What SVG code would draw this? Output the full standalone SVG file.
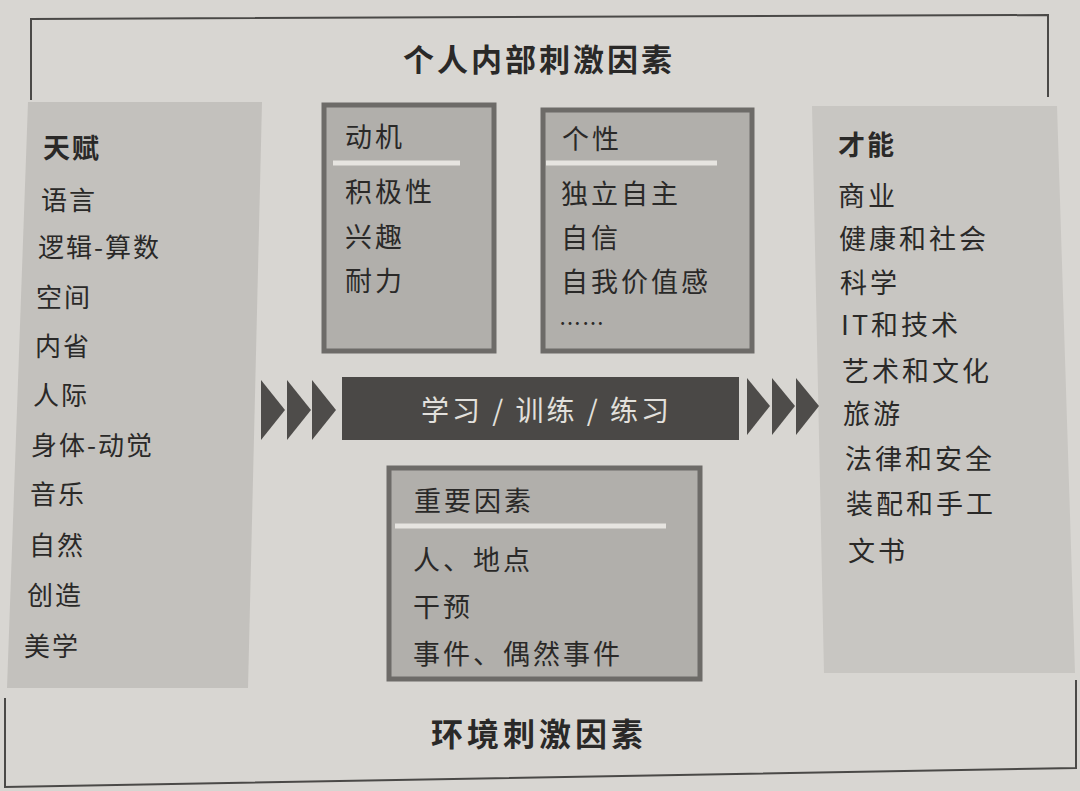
<svg xmlns="http://www.w3.org/2000/svg" width="1080" height="791" viewBox="0 0 1080 791">
<style>
.t{font-family:"Noto Sans CJK SC","Noto Sans",sans-serif;fill:#2a2928}
.item{font-size:26px;letter-spacing:2px}
.bitem{font-size:27px;letter-spacing:3px}
.head{font-size:27px;font-weight:bold;letter-spacing:2px}
.title{font-size:31px;font-weight:bold;letter-spacing:3px}
.frame{fill:none;stroke:#4a4947;stroke-width:2}
.panel{fill:#c3c1bd}
.box{fill:#b1afab;stroke:#6d6b68;stroke-width:5}
.rule{stroke:#e6e4e0;stroke-width:5}
.chev{fill:#4e4c4a}
</style>
<rect x="0" y="0" width="1080" height="791" fill="#d8d6d2"/>
<g id="frame-top">
<path class="frame" d="M31,100 L31,19 L1048,15 L1048,97"/>
<text class="t title" x="403" y="71">个人内部刺激因素</text>
</g>
<g id="frame-bottom">
<path class="frame" d="M5,698 L5,787 L1076,768 L1076,680"/>
<text class="t title" x="431" y="746" style="font-size:32px;letter-spacing:4px">环境刺激因素</text>
</g>
<g id="panel-talent">
<polygon class="panel" points="28,102 262,102 248,688 7,688"/>
<text class="t head" x="43" y="158">天赋</text>
<text class="t item" x="41" y="210">语言</text>
<text class="t item" x="38" y="257">逻辑-算数</text>
<text class="t item" x="36" y="307">空间</text>
<text class="t item" x="35" y="356">内省</text>
<text class="t item" x="33" y="405">人际</text>
<text class="t item" x="31" y="455">身体-动觉</text>
<text class="t item" x="30" y="504">音乐</text>
<text class="t item" x="29" y="555">自然</text>
<text class="t item" x="27" y="605">创造</text>
<text class="t item" x="24" y="656">美学</text>
</g>
<g id="box-motivation">
<rect class="box" x="324" y="105" width="170" height="246"/>
<line class="rule" x1="333" y1="163" x2="460" y2="163"/>
<text class="t bitem" x="345" y="147">动机</text>
<text class="t bitem" x="345" y="202">积极性</text>
<text class="t bitem" x="345" y="247">兴趣</text>
<text class="t bitem" x="345" y="291">耐力</text>
</g>
<g id="box-personality">
<rect class="box" x="543" y="110" width="209" height="241"/>
<line class="rule" x1="546" y1="163" x2="717" y2="163"/>
<text class="t bitem" x="562" y="149">个性</text>
<text class="t bitem" x="561" y="204">独立自主</text>
<text class="t bitem" x="561" y="248">自信</text>
<text class="t bitem" x="561" y="292">自我价值感</text>
<text class="t" x="559" y="331" style="font-size:22px;letter-spacing:1px">……</text>
</g>
<g id="panel-abilities">
<polygon class="panel" points="812,106 1057,106 1075,673 824,673" style="fill:#c8c6c2"/>
<text class="t head" x="838" y="155">才能</text>
<text class="t bitem" x="838" y="206">商业</text>
<text class="t bitem" x="839" y="249">健康和社会</text>
<text class="t bitem" x="840" y="293">科学</text>
<text class="t bitem" x="841" y="335">IT和技术</text>
<text class="t bitem" x="842" y="381">艺术和文化</text>
<text class="t bitem" x="843" y="424">旅游</text>
<text class="t bitem" x="845" y="469">法律和安全</text>
<text class="t bitem" x="846" y="514">装配和手工</text>
<text class="t bitem" x="848" y="561">文书</text>
</g>
<g id="bar-learning">
<rect x="342" y="377" width="397" height="63" fill="#4a4846"/>
<text class="t bitem" x="421" y="421" style="fill:#e2e0dc;font-size:28px">学习 / 训练 / 练习</text>
</g>
<g id="box-factors">
<rect class="box" x="389" y="468" width="311" height="211"/>
<line class="rule" x1="395" y1="526" x2="666" y2="526"/>
<text class="t bitem" x="414" y="511">重要因素</text>
<text class="t bitem" x="413" y="570">人、地点</text>
<text class="t bitem" x="413" y="617">干预</text>
<text class="t bitem" x="413" y="664">事件、偶然事件</text>
</g>
<g id="connectors">
<polygon class="chev" points="261,380 285,410 261,440"/>
<polygon class="chev" points="287,380 311,410 287,440"/>
<polygon class="chev" points="312,380 336,410 312,440"/>
<polygon class="chev" points="747,378 770,406 747,435"/>
<polygon class="chev" points="772,378 795,406 772,435"/>
<polygon class="chev" points="796,378 819,406 796,435"/>
</g>
</svg>
